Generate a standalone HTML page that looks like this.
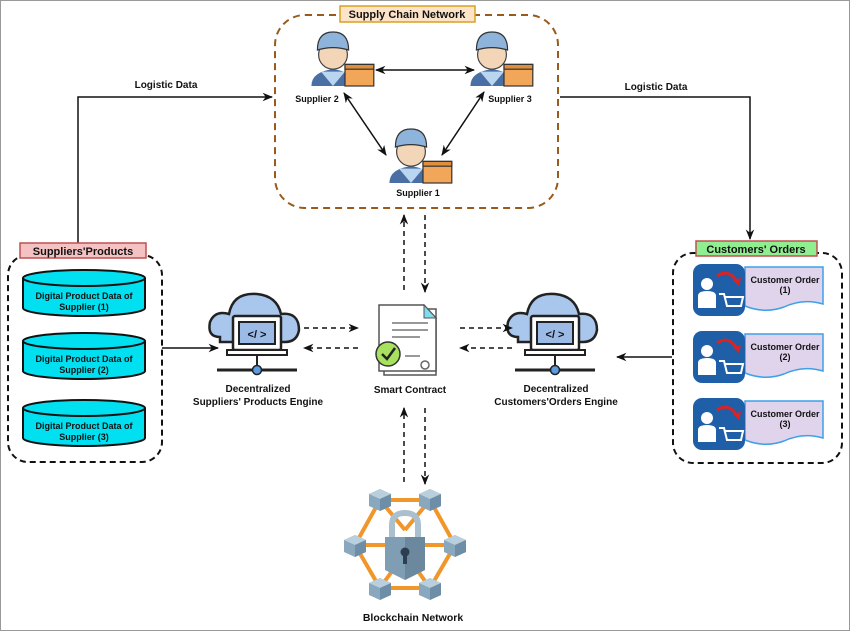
<!DOCTYPE html>
<html><head><meta charset="utf-8"><style>
html,body{margin:0;padding:0;background:#fff}
svg{display:block}
text{font-family:"Liberation Sans",Arial,sans-serif;font-weight:bold;fill:#111}
</style></head><body>
<svg width="850" height="631" viewBox="0 0 850 631" xmlns="http://www.w3.org/2000/svg">
<defs>
<marker id="a" viewBox="0 0 10 10" refX="9" refY="5" markerWidth="7" markerHeight="7" orient="auto-start-reverse"><path d="M0,1 L10,5 L0,9 L3,5z" fill="#111"/></marker>
<g id="sup">
<path d="M-18,30 Q-18,18 0,16 Q18,18 18,30z" fill="#4a6fa5"/>
<path d="M-10,18 L0,30 L10,18z" fill="#b9d5ef"/>
<circle cx="0" cy="4" r="12" fill="#f3d6b8" stroke="#444" stroke-width="1"/>
<path d="M-13,0 Q-13,-15 0,-15 Q13,-15 13,0 Q0,-4 -13,0z" fill="#8fb4dc" stroke="#333" stroke-width="1"/>
<rect x="10" y="12" width="24" height="18" fill="#f2a65a" stroke="#333" stroke-width="1"/>
<rect x="10" y="12" width="24" height="4" fill="#e08e3c" stroke="#333" stroke-width="1"/>
</g>
<g id="cloud">
<path d="M5,45 Q-8,45 -5,30 Q0,18 14,22 Q18,0 42,2 Q62,4 66,22 Q84,20 84,38 Q82,50 70,50 L5,50z" fill="#a9c6ec" stroke="#222" stroke-width="2.5"/>
<rect x="18" y="24" width="48" height="34" rx="2" fill="#fff" stroke="#222" stroke-width="2.5"/>
<rect x="24" y="30" width="36" height="22" fill="#9bbbe6" stroke="#222" stroke-width="2"/>
<text x="42" y="46" font-size="11" text-anchor="middle" style="fill:#111">&lt;/ &gt;</text>
<rect x="12" y="58" width="60" height="5" fill="#fff" stroke="#222" stroke-width="2"/>
<line x1="42" y1="63" x2="42" y2="74" stroke="#222" stroke-width="2"/>
<line x1="2" y1="78" x2="82" y2="78" stroke="#222" stroke-width="3"/>
<circle cx="42" cy="78" r="4.5" fill="#5b9be0" stroke="#222" stroke-width="1.5"/>
</g>
<g id="cyl">
<path d="M0,8 L0,38 A61,8 0 0 0 122,38 L122,8" fill="#00e0f0" stroke="#111" stroke-width="2"/>
<ellipse cx="61" cy="8" rx="61" ry="8" fill="#00e0f0" stroke="#111" stroke-width="2"/>
</g>
<g id="ord">
<path d="M52,3 L130,3 L130,40 Q110,34 91,43 Q72,50 52,42z" fill="#e0d3ec" stroke="#3da0e8" stroke-width="1.5"/>
<rect x="0" y="0" width="52" height="52" rx="9" fill="#1f5fa8"/>
<circle cx="14" cy="20" r="6" fill="#fff"/>
<path d="M5,44 L5,32 Q5,27 14,27 Q23,27 23,32 L23,44z" fill="#fff"/>
<path d="M26,30 L31,30 L34,42 L48,42 L50,33 L32,33" fill="none" stroke="#fff" stroke-width="2"/>
<path d="M24,12 Q36,4 44,18" fill="none" stroke="#d22" stroke-width="3"/>
<path d="M40,16 L46,22 L48,14z" fill="#d22"/>
</g>
<g id="cube">
<path d="M0,-9 L11,-4 L11,8 L0,13 L-11,8 L-11,-4z" fill="#8aa8bd"/>
<path d="M0,-9 L11,-4 L0,1 L-11,-4z" fill="#b9cfdd"/>
<path d="M0,1 L11,-4 L11,8 L0,13z" fill="#6d8ea6"/>
</g>
</defs>
<rect x="0.5" y="0.5" width="849" height="630" fill="#fff" stroke="#999" stroke-width="1"/>

<rect x="275" y="15" width="283" height="193" rx="30" fill="none" stroke="#9a5a1a" stroke-width="2" stroke-dasharray="7,5"/>
<rect x="340" y="6" width="135" height="16" fill="#fde4c8" stroke="#d9a020" stroke-width="1.5"/>
<text x="407" y="18" font-size="11" text-anchor="middle">Supply Chain Network</text>
<use href="#sup" transform="translate(333,50) scale(1.2)"/>
<use href="#sup" transform="translate(492,50) scale(1.2)"/>
<use href="#sup" transform="translate(411,147) scale(1.2)"/>
<text x="317" y="102" font-size="9" text-anchor="middle">Supplier 2</text>
<text x="510" y="102" font-size="9" text-anchor="middle">Supplier 3</text>
<text x="418" y="196" font-size="9" text-anchor="middle">Supplier 1</text>
<line x1="376" y1="70" x2="474" y2="70" stroke="#111" stroke-width="1.5" marker-start="url(#a)" marker-end="url(#a)"/>
<line x1="344" y1="93" x2="386" y2="155" stroke="#111" stroke-width="1.5" marker-start="url(#a)" marker-end="url(#a)"/>
<line x1="484" y1="92" x2="442" y2="155" stroke="#111" stroke-width="1.5" marker-start="url(#a)" marker-end="url(#a)"/>

<polyline points="78,243 78,97 272,97" fill="none" stroke="#111" stroke-width="1.5" marker-end="url(#a)"/>
<text x="166" y="88" font-size="10" text-anchor="middle">Logistic Data</text>
<polyline points="560,97 750,97 750,239" fill="none" stroke="#111" stroke-width="1.5" marker-end="url(#a)"/>
<text x="656" y="90" font-size="10" text-anchor="middle">Logistic Data</text>

<rect x="8" y="255" width="154" height="207" rx="20" fill="none" stroke="#111" stroke-width="2" stroke-dasharray="6,4"/>
<rect x="20" y="243" width="126" height="15" fill="#f4c2c2" stroke="#c05050" stroke-width="1.5"/>
<text x="83" y="255" font-size="11" text-anchor="middle">Suppliers'Products</text>
<use href="#cyl" x="23" y="270"/>
<use href="#cyl" x="23" y="333"/>
<use href="#cyl" x="23" y="400"/>
<text x="84" y="299" font-size="9" text-anchor="middle">Digital Product Data of</text>
<text x="84" y="310" font-size="9" text-anchor="middle">Supplier (1)</text>
<text x="84" y="362" font-size="9" text-anchor="middle">Digital Product Data of</text>
<text x="84" y="373" font-size="9" text-anchor="middle">Supplier (2)</text>
<text x="84" y="429" font-size="9" text-anchor="middle">Digital Product Data of</text>
<text x="84" y="440" font-size="9" text-anchor="middle">Supplier (3)</text>
<line x1="162" y1="348" x2="218" y2="348" stroke="#111" stroke-width="1.5" marker-end="url(#a)"/>

<use href="#cloud" x="215" y="292"/>
<text x="258" y="392" font-size="10" text-anchor="middle">Decentralized</text>
<text x="258" y="405" font-size="10" text-anchor="middle">Suppliers' Products Engine</text>
<use href="#cloud" x="513" y="292"/>
<text x="556" y="392" font-size="10" text-anchor="middle">Decentralized</text>
<text x="556" y="405" font-size="10" text-anchor="middle">Customers'Orders Engine</text>

<g stroke="#111" stroke-width="1.5" stroke-dasharray="5,4" fill="none">
<line x1="304" y1="328" x2="358" y2="328" marker-end="url(#a)"/>
<line x1="358" y1="348" x2="304" y2="348" marker-end="url(#a)"/>
<line x1="460" y1="328" x2="512" y2="328" marker-end="url(#a)"/>
<line x1="512" y1="348" x2="460" y2="348" marker-end="url(#a)"/>
<line x1="404" y1="290" x2="404" y2="215" marker-end="url(#a)"/>
<line x1="425" y1="215" x2="425" y2="292" marker-end="url(#a)"/>
<line x1="404" y1="482" x2="404" y2="408" marker-end="url(#a)"/>
<line x1="425" y1="408" x2="425" y2="484" marker-end="url(#a)"/>
</g>

<rect x="384" y="309" width="52" height="66" fill="#fff" stroke="#555" stroke-width="1.5"/>
<path d="M379,305 L424,305 L436,318 L436,371 L379,371z" fill="#fff" stroke="#555" stroke-width="1.5"/>
<path d="M424,305 L424,318 L436,318z" fill="#7fdcf0" stroke="#555"/>
<g stroke="#777" stroke-width="1.5"><line x1="392" y1="323" x2="428" y2="323"/><line x1="392" y1="330" x2="428" y2="330"/><line x1="392" y1="337" x2="420" y2="337"/><line x1="405" y1="356" x2="420" y2="356"/></g>
<circle cx="388" cy="354" r="12" fill="#a8e060" stroke="#333" stroke-width="1.5"/>
<path d="M382,354 L387,359 L395,348" fill="none" stroke="#222" stroke-width="2.5"/>
<circle cx="425" cy="365" r="4" fill="none" stroke="#666" stroke-width="1.5"/>
<text x="410" y="393" font-size="10" text-anchor="middle">Smart Contract</text>

<rect x="673" y="253" width="169" height="210" rx="20" fill="none" stroke="#111" stroke-width="2" stroke-dasharray="6,4"/>
<rect x="696" y="241" width="121" height="15" fill="#90ee90" stroke="#c05050" stroke-width="1.5"/>
<text x="756" y="253" font-size="11" text-anchor="middle">Customers' Orders</text>
<use href="#ord" x="693" y="264"/>
<use href="#ord" x="693" y="331"/>
<use href="#ord" x="693" y="398"/>
<text x="785" y="283" font-size="9" text-anchor="middle">Customer Order</text>
<text x="785" y="293" font-size="9" text-anchor="middle">(1)</text>
<text x="785" y="350" font-size="9" text-anchor="middle">Customer Order</text>
<text x="785" y="360" font-size="9" text-anchor="middle">(2)</text>
<text x="785" y="417" font-size="9" text-anchor="middle">Customer Order</text>
<text x="785" y="427" font-size="9" text-anchor="middle">(3)</text>
<line x1="672" y1="357" x2="617" y2="357" stroke="#111" stroke-width="1.5" marker-end="url(#a)"/>

<g stroke="#f0962a" stroke-width="4" fill="none">
<polygon points="380,500 430,500 455,545 430,588 380,588 355,545"/>
<line x1="380" y1="500" x2="405" y2="530"/><line x1="430" y1="500" x2="405" y2="530"/>
<line x1="355" y1="545" x2="395" y2="545"/><line x1="455" y1="545" x2="415" y2="545"/>
<line x1="380" y1="588" x2="400" y2="560"/><line x1="430" y1="588" x2="410" y2="560"/>
</g>
<use href="#cube" x="380" y="498"/><use href="#cube" x="430" y="498"/>
<use href="#cube" x="355" y="544"/><use href="#cube" x="455" y="544"/>
<use href="#cube" x="380" y="587"/><use href="#cube" x="430" y="587"/>
<path d="M392,537 L392,525 Q392,513 405,513 Q418,513 418,525 L418,537" fill="none" stroke="#aac0cf" stroke-width="6"/>
<path d="M385,537 L425,537 L425,570 L405,580 L385,570z" fill="#7f9db3"/>
<path d="M405,537 L425,537 L425,570 L405,580z" fill="#6b889e"/>
<circle cx="405" cy="552" r="4.5" fill="#2c3e50"/><rect x="403" y="552" width="4" height="12" fill="#2c3e50"/>
<text x="413" y="621" font-size="10.5" text-anchor="middle">Blockchain Network</text>
</svg>
</body></html>
